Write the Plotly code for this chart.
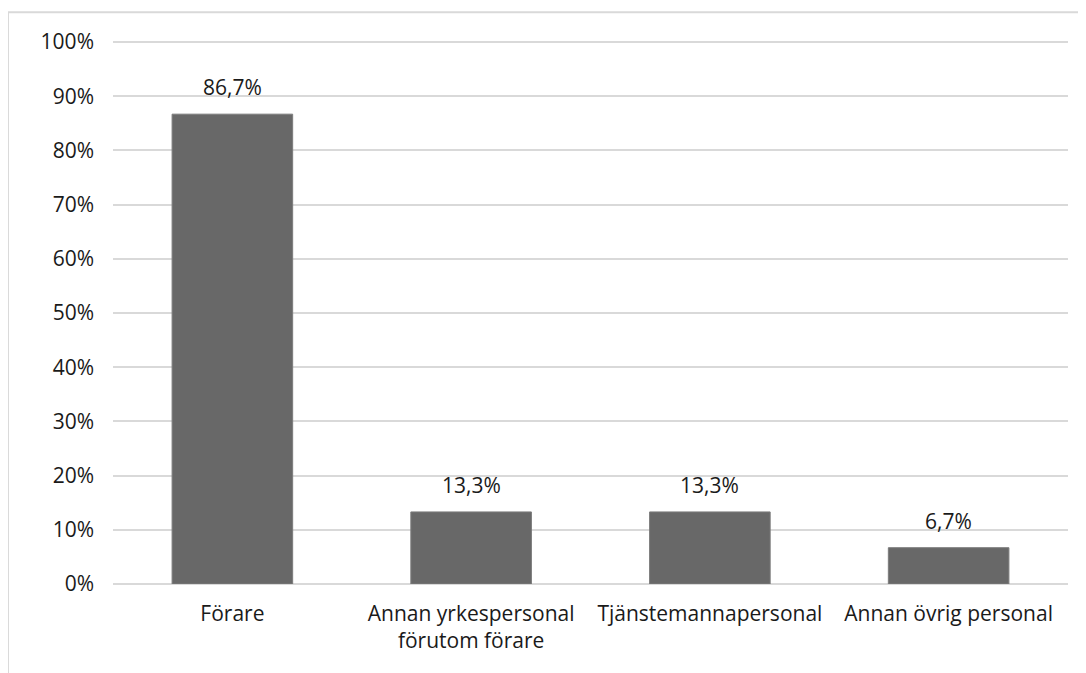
import plotly.graph_objects as go

categories = ["Förare", "Annan yrkespersonal<br>förutom förare", "Tjänstemannapersonal", "Annan övrig personal"]
values = [86.7, 13.3, 13.3, 6.7]
labels = [f"{v:.1f}%".replace(".", ",") for v in values]
y_ticks = list(range(0, 101, 10))
y_ticktext = [f"{t}%" for t in y_ticks]

fig = go.Figure(go.Bar(
    x=categories,
    y=values,
    marker=dict(color="#686868", line=dict(color="#7c7c7c", width=1)),
    width=0.505,
    hoverinfo="x+y",
))

# value labels sit a bit higher above the bars than plotly's own outside text
for c, v, t in zip(categories, values, labels):
    fig.add_annotation(x=c, y=v, text=t, showarrow=False,
                       yanchor="bottom", yshift=11,
                       font=dict(size=21, color="#1a1a1a"))

fig.update_layout(
    width=1086, height=673,
    margin=dict(l=105, r=26, t=33, b=97),
    paper_bgcolor="white", plot_bgcolor="white",
    font=dict(family="Open Sans, Lato, sans-serif", size=21, color="#1a1a1a"),
    showlegend=False,
    shapes=[dict(type="rect", xref="paper", yref="paper",
                 x0=-0.11, x1=1.1, y0=-0.4, y1=1.053,
                 line=dict(color="#d9d9d9", width=2), layer="below")],
)
fig.update_yaxes(range=[0, 100.2], tickvals=y_ticks, ticktext=y_ticktext,
                 showgrid=True, gridcolor="#d9d9d9", gridwidth=2,
                 zeroline=True, zerolinecolor="#d9d9d9", zerolinewidth=2,
                 ticks="", ticklabelstandoff=18, showline=False)
fig.update_xaxes(showgrid=False, ticks="", ticklabelstandoff=15, showline=False)

fig.write_html("out.html")
